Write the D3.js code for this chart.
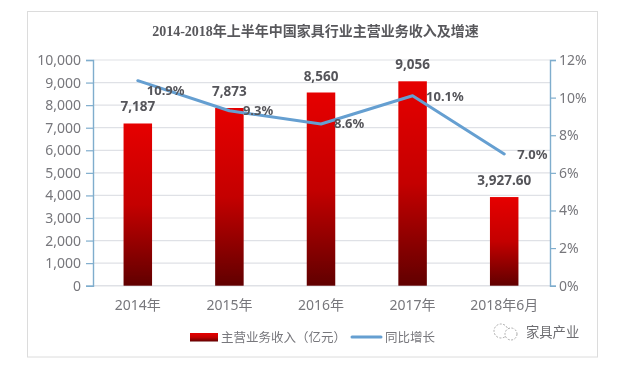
<!DOCTYPE html>
<html><head><meta charset="utf-8">
<script src="https://cdn.jsdelivr.net/npm/d3@7"></script>
<style>
html,body{margin:0;padding:0;background:#fff}
svg{display:block}
text{font-family:"Noto Sans","Noto Sans CJK SC",sans-serif}
</style></head><body>
<svg id="c" width="622" height="378"></svg>
<script>
const categories=["2014年","2015年","2016年","2017年","2018年6月"];
const revenue=[7187,7873,8560,9056,3927.6];
const revenueLabels=["7,187","7,873","8,560","9,056","3,927.60"];
const growth=[10.9,9.3,8.6,10.1,7.0];
const growthLabels=["10.9%","9.3%","8.6%","10.1%","7.0%"];
const leftTicks=[0,1000,2000,3000,4000,5000,6000,7000,8000,9000,10000];
const rightTicks=[0,2,4,6,8,10,12];
const titleText="2014-2018年上半年中国家具行业主营业务收入及增速";
const legendBar="主营业务收入（亿元）";
const legendLine="同比增长";
const watermark="家具产业";

const svg=d3.select("#c");
const m={l:93,r:550,t:60,b:285.7};
const x=d3.scaleBand().domain(categories).range([m.l-1,m.r]);
const yL=d3.scaleLinear().domain([0,10000]).range([m.b,m.t]);
const yR=d3.scaleLinear().domain([0,12]).range([m.b,m.t]);
const txt="#77777c",dark="#55555a",axisC="#7fadcd",grid="#dfe1e6",lineC="#659fd1";

const defs=svg.append("defs");
const g=defs.append("linearGradient").attr("id","bar").attr("x1",0).attr("y1",0).attr("x2",0).attr("y2",1);
g.append("stop").attr("offset","0%").attr("stop-color","#e60000");
g.append("stop").attr("offset","50%").attr("stop-color","#c40000");
g.append("stop").attr("offset","100%").attr("stop-color","#610000");
const f=defs.append("filter").attr("id","soft");
f.append("feGaussianBlur").attr("stdDeviation",0.35);

const root=svg.append("g").attr("filter","url(#soft)");
root.append("rect").attr("x",27.5).attr("y",11.5).attr("width",570).attr("height",345.5)
  .attr("fill","#fff").attr("stroke","#dcdcdc");
root.append("text").attr("x",315.5).attr("y",35.5).attr("text-anchor","middle")
  .attr("font-size",14).attr("font-weight",700).attr("fill","#58585c")
  .style("font-family",'"Liberation Serif","Noto Sans CJK SC",serif').text(titleText);

root.append("g").selectAll("line").data(leftTicks.slice(1)).join("line")
  .attr("x1",m.l).attr("x2",m.r).attr("y1",d=>yL(d)).attr("y2",d=>yL(d))
  .attr("stroke",grid).attr("stroke-width",1.2);
root.append("line").attr("x1",m.l).attr("x2",m.r).attr("y1",m.b).attr("y2",m.b).attr("stroke",grid).attr("stroke-width",1.4);

const bw=28.5;
root.append("g").selectAll("rect").data(categories).join("rect")
  .attr("x",d=>x(d)+x.bandwidth()/2-bw/2).attr("width",bw)
  .attr("y",(d,i)=>yL(revenue[i])).attr("height",(d,i)=>m.b-yL(revenue[i]))
  .attr("fill","url(#bar)");

const axL=root.append("g").attr("transform",`translate(${m.l},0)`)
  .call(d3.axisLeft(yL).tickValues(leftTicks).tickFormat(d3.format(",")).tickSize(7).tickPadding(5));
const axR=root.append("g").attr("transform",`translate(${m.r},0)`)
  .call(d3.axisRight(yR).tickValues(rightTicks).tickFormat(d=>d+"%").tickSize(6).tickPadding(3));
[axL,axR].forEach(a=>{
  a.selectAll("path").attr("stroke",axisC).attr("stroke-width",1.4);
  a.selectAll("line").attr("stroke",axisC).attr("stroke-width",1.2);
  a.selectAll("text").attr("fill",txt).attr("font-size",14).style("font-family",'"Noto Sans",sans-serif');
});
const axB=root.append("g").attr("transform",`translate(0,${m.b})`)
  .call(d3.axisBottom(x).tickSize(0).tickPadding(14));
axB.select("path").remove();
axB.selectAll("text").attr("fill",txt).attr("font-size",14);

const line=d3.line().x((d,i)=>x(categories[i])+x.bandwidth()/2).y(d=>yR(d));
root.append("path").attr("d",line(growth)).attr("fill","none").attr("stroke",lineC).attr("stroke-width",3).attr("stroke-linecap","round").attr("stroke-linejoin","round");

root.append("g").selectAll("text").data(revenueLabels).join("text")
  .attr("x",(d,i)=>x(categories[i])+x.bandwidth()/2)
  .attr("y",(d,i)=>yL(revenue[i])-12).attr("text-anchor","middle")
  .attr("font-size",13.5).attr("font-weight",700).attr("fill",dark).text(d=>d);
const gdx=[9,13.5,13,13.5,13];
const gdy=[14,4.5,4.5,5,5];
root.append("g").selectAll("text").data(growthLabels).join("text")
  .attr("x",(d,i)=>x(categories[i])+x.bandwidth()/2+gdx[i])
  .attr("y",(d,i)=>yR(growth[i])+gdy[i]).attr("text-anchor","start")
  .attr("font-size",13).attr("font-weight",700).attr("fill",dark).text(d=>d);

// legend
root.append("rect").attr("x",190).attr("y",333).attr("width",28).attr("height",8.5).attr("fill","url(#bar)");
root.append("text").attr("x",221).attr("y",341.5).attr("font-size",12.5).attr("fill",txt).text(legendBar);
root.append("line").attr("x1",352).attr("x2",381).attr("y1",337).attr("y2",337).attr("stroke",lineC).attr("stroke-width",3).attr("stroke-linecap","round");
root.append("text").attr("x",385).attr("y",341.5).attr("font-size",12.5).attr("fill",txt).text(legendLine);

// watermark
root.append("circle").attr("cx",501).attr("cy",331).attr("r",7).attr("fill","none").attr("stroke","#aaa").attr("stroke-dasharray","2 1.5");
root.append("circle").attr("cx",511).attr("cy",334).attr("r",6).attr("fill","#fff").attr("stroke","#aaa").attr("stroke-dasharray","2 1.5");
root.append("text").attr("x",526).attr("y",337).attr("font-size",13.3).attr("fill","#6c6c70").text(watermark);
</script>
</body></html>
